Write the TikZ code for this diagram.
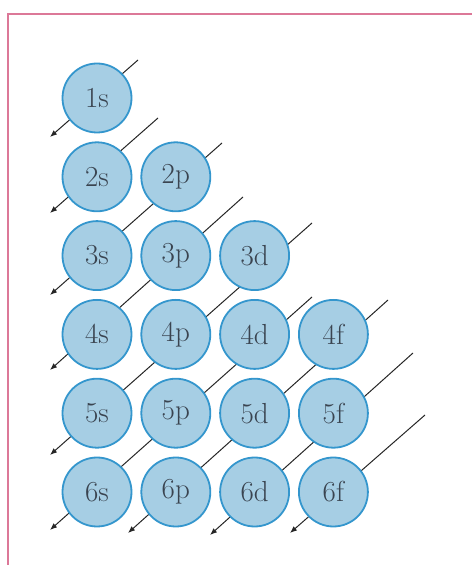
\documentclass[tikz,border=0pt]{standalone}
\usepackage{tikz}
\usetikzlibrary{arrows.meta,positioning}

\definecolor{orbfill}{RGB}{166,206,228}
\definecolor{orbline}{RGB}{52,150,205}
\definecolor{orbtext}{RGB}{58,68,80}
\definecolor{framepink}{RGB}{220,120,152}

\begin{document}
\begin{tikzpicture}[x=1pt,y=1pt,node distance=78.8pt,on grid,>=Latex,
  orb/.style={circle,draw=orbline,fill=orbfill,line width=1.8pt,minimum size=69pt,
    text=orbtext,font=\fontsize{29}{30}\selectfont},
  diag/.style={->,black!85,line width=1pt,>={Latex[length=7pt,width=5.5pt]}}]
\useasboundingbox (0,0) rectangle (472,565);
% frame
\draw[framepink,line width=2pt] (8,0) -- (8,551) -- (472,551);
% ends of the diagonals
\coordinate (a1) at (138,505); \coordinate (b1) at (50,428);
\coordinate (a2) at (158,447); \coordinate (b2) at (50,352);
\coordinate (a3) at (222,422); \coordinate (b3) at (50,270);
\coordinate (a4) at (243,368); \coordinate (b4) at (50,195);
\coordinate (a5) at (312,342); \coordinate (b5) at (50,110);
\coordinate (a6) at (312,268); \coordinate (b6) at (50,35);
\coordinate (a7) at (388,265); \coordinate (b7) at (128,32);
\coordinate (a8) at (413,212); \coordinate (b8) at (210,30);
\coordinate (a9) at (425,150); \coordinate (b9) at (290,32);
\foreach \i in {1,...,9}
  \draw[diag] (a\i) -- (b\i);
% orbitals
\node[orb] (o1s) at (97,467) {1s};
\node[orb,below=of o1s] (o2s) {2s};
\node[orb,right=of o2s] (o2p) {2p};
\node[orb,below=of o2s] (o3s) {3s};
\node[orb,right=of o3s] (o3p) {3p};
\node[orb,right=of o3p] (o3d) {3d};
\node[orb,below=of o3s] (o4s) {4s};
\node[orb,right=of o4s] (o4p) {4p};
\node[orb,right=of o4p] (o4d) {4d};
\node[orb,right=of o4d] (o4f) {4f};
\node[orb,below=of o4s] (o5s) {5s};
\node[orb,right=of o5s] (o5p) {5p};
\node[orb,right=of o5p] (o5d) {5d};
\node[orb,right=of o5d] (o5f) {5f};
\node[orb,below=of o5s] (o6s) {6s};
\node[orb,right=of o6s] (o6p) {6p};
\node[orb,right=of o6p] (o6d) {6d};
\node[orb,right=of o6d] (o6f) {6f};
\end{tikzpicture}
\end{document}
